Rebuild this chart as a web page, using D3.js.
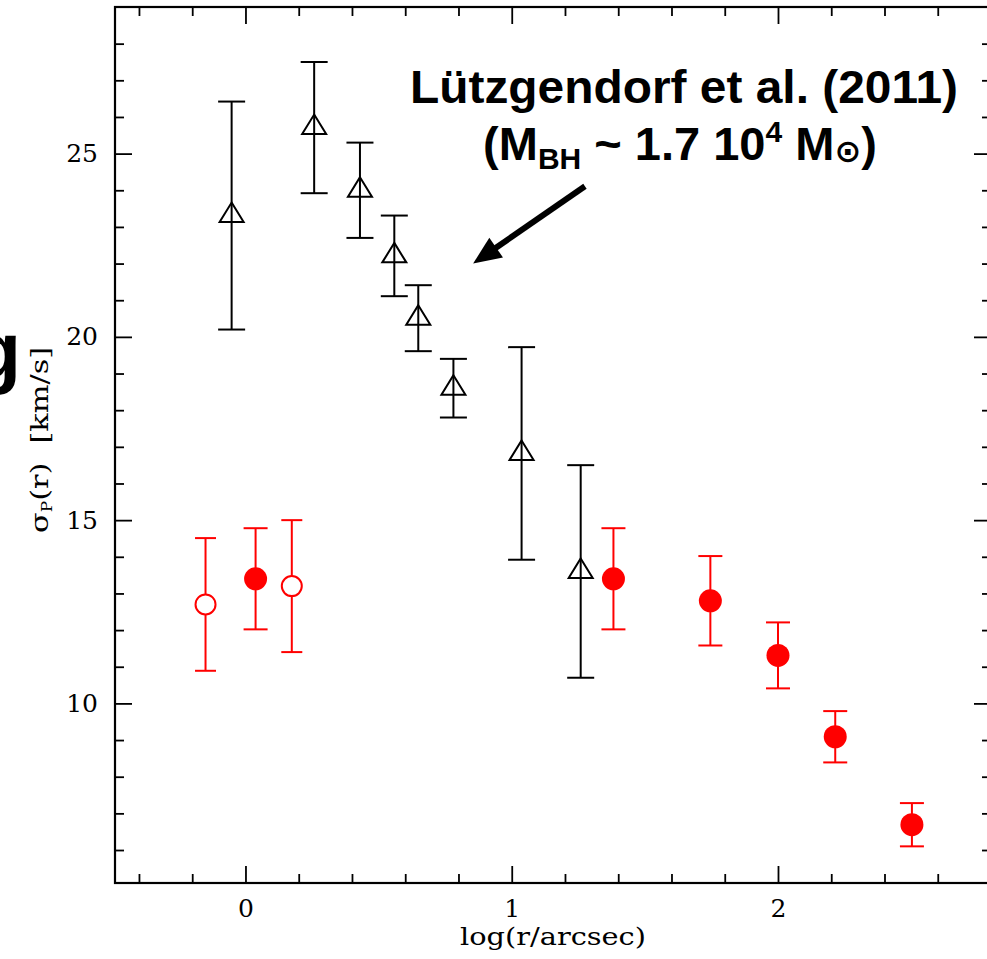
<!DOCTYPE html>
<html>
<head>
<meta charset="utf-8">
<script src="https://cdn.jsdelivr.net/npm/d3@7"></script>
<style>
html,body{margin:0;padding:0;background:#fff;overflow:hidden;}
svg{display:block;}
</style>
</head>
<body>
<svg id="chart" width="987" height="959"></svg>
<script>
// ---- data ----
const lutzX    = [-0.052, 0.258, 0.430, 0.559, 0.649, 0.781, 1.037, 1.259];
const lutzSig  = [23.31, 25.71, 24.00, 22.21, 20.51, 18.60, 16.82, 13.60];
const lutzErr  = [3.11, 1.79, 1.30, 1.10, 0.90, 0.80, 2.90, 2.90];

const openX    = [-0.150, 0.174];
const openSig  = [12.70, 13.20];
const openErr  = [1.81, 1.80];

const fullX    = [0.038, 1.382, 1.746, 2.000, 2.215, 2.503];
const fullSig  = [13.40, 13.40, 12.80, 11.31, 9.09, 6.69];
const fullErr  = [1.38, 1.38, 1.22, 0.90, 0.70, 0.59];

const xMajor = [0, 1, 2];
const xMinor = [-0.4, -0.2, 0.2, 0.4, 0.6, 0.8, 1.2, 1.4, 1.6, 1.8, 2.2, 2.4, 2.6];
const yMajor = [10, 15, 20, 25];
const yMinor = [6, 7, 8, 9, 11, 12, 13, 14, 16, 17, 18, 19, 21, 22, 23, 24, 26, 27, 28];

const arrowFrom = [1.275, 24.11];
const arrowTo   = [0.855, 22.0];

// ---- layout ----
const L = 115, T = 7, B = 883, R = 991;
const svg = d3.select("#chart");
const x = d3.scaleLinear().domain([-0.49, 2.8]).range([L, R]);
const y = d3.scaleLinear().domain([5.1, 29.0]).range([B, T]);

const serif = "'DejaVu Serif', 'Liberation Serif', serif";
const sans = "'Liberation Sans', Arial, 'DejaVu Sans', sans-serif";

function styleAxis(g){
  g.attr("font-size",25).attr("font-family",serif);
  g.select(".domain").remove();
  g.selectAll(".tick line").attr("stroke","#000").attr("stroke-width",1.8);
  g.selectAll(".tick text").attr("font-family",serif).attr("font-size",25).attr("fill","#000");
}
// bottom
svg.append("g").attr("transform",`translate(0,${B})`)
  .call(d3.axisBottom(x).tickValues(xMajor).tickSize(-17).tickPadding(16).tickFormat(d3.format("d")))
  .call(styleAxis);
svg.append("g").attr("transform",`translate(0,${B})`)
  .call(d3.axisBottom(x).tickValues(xMinor).tickSize(-9).tickFormat(""))
  .call(styleAxis);
// top
svg.append("g").attr("transform",`translate(0,${T})`)
  .call(d3.axisTop(x).tickValues(xMajor).tickSize(-17).tickFormat(""))
  .call(styleAxis);
svg.append("g").attr("transform",`translate(0,${T})`)
  .call(d3.axisTop(x).tickValues(xMinor).tickSize(-9).tickFormat(""))
  .call(styleAxis);
// left
svg.append("g").attr("transform",`translate(${L},0)`)
  .call(d3.axisLeft(y).tickValues(yMajor).tickSize(-17).tickPadding(17).tickFormat(d3.format("d")))
  .call(styleAxis);
svg.append("g").attr("transform",`translate(${L},0)`)
  .call(d3.axisLeft(y).tickValues(yMinor).tickSize(-9).tickFormat(""))
  .call(styleAxis);
// right
svg.append("g").attr("transform",`translate(${R},0)`)
  .call(d3.axisRight(y).tickValues(yMajor).tickSize(-17).tickFormat(""))
  .call(styleAxis);
svg.append("g").attr("transform",`translate(${R},0)`)
  .call(d3.axisRight(y).tickValues(yMinor).tickSize(-9).tickFormat(""))
  .call(styleAxis);

// frame
svg.append("rect").attr("x",L).attr("y",T).attr("width",R-L).attr("height",B-T)
  .attr("fill","none").attr("stroke","#000").attr("stroke-width",2.2);

// axis titles
svg.append("text").attr("x",(L+R)/2).attr("y",945).attr("text-anchor","middle")
  .attr("font-family",serif).attr("font-size",24).attr("textLength",186).attr("lengthAdjust","spacingAndGlyphs")
  .text("log(r/arcsec)");

const yt = svg.append("text").attr("transform",`translate(48,${(T+B)/2-5}) rotate(-90)`)
  .attr("text-anchor","middle").attr("font-family",serif).attr("font-size",25)
  .attr("textLength",186).attr("lengthAdjust","spacingAndGlyphs");
yt.append("tspan").text("σ");
yt.append("tspan").attr("font-size",14).attr("dy",4).text("P");
yt.append("tspan").attr("dy",-4).text("(r)\u00a0\u00a0[km/s]");

// stray large "g" at left edge
svg.append("text").attr("x",21).attr("y",378).attr("text-anchor","end")
  .attr("font-family",sans).attr("font-weight","bold").attr("font-size",80).text("g");

// ---- error bars helper ----
function errBars(xs, ys, es, color, cap){
  const data = xs.map((d,i)=>({x:d,y:ys[i],e:es[i]}));
  const g = svg.append("g").attr("stroke",color).attr("stroke-width",2).attr("fill","none");
  g.selectAll(".v").data(data).join("line")
    .attr("x1",d=>x(d.x)).attr("x2",d=>x(d.x)).attr("y1",d=>y(d.y-d.e)).attr("y2",d=>y(d.y+d.e));
  g.selectAll(".t").data(data).join("line")
    .attr("x1",d=>x(d.x)-cap).attr("x2",d=>x(d.x)+cap).attr("y1",d=>y(d.y+d.e)).attr("y2",d=>y(d.y+d.e));
  g.selectAll(".b").data(data).join("line")
    .attr("x1",d=>x(d.x)-cap).attr("x2",d=>x(d.x)+cap).attr("y1",d=>y(d.y-d.e)).attr("y2",d=>y(d.y-d.e));
  return data;
}

// Lutzgendorf triangles
const lut = errBars(lutzX, lutzSig, lutzErr, "#000", 13.5);
svg.append("g").selectAll("path").data(lut).join("path")
  .attr("transform",d=>`translate(${x(d.x)},${y(d.y)})`)
  .attr("d","M0,-13L12,6.5L-12,6.5Z")
  .attr("fill","none").attr("stroke","#000").attr("stroke-width",2).attr("stroke-linejoin","miter");

// red open circles
const op = errBars(openX, openSig, openErr, "#ff0000", 10.5);
svg.append("g").selectAll("circle").data(op).join("circle")
  .attr("cx",d=>x(d.x)).attr("cy",d=>y(d.y)).attr("r",10)
  .attr("fill","#fff").attr("stroke","#ff0000").attr("stroke-width",2);

// red filled circles
const fu = errBars(fullX, fullSig, fullErr, "#ff0000", 12);
svg.append("g").selectAll("circle").data(fu).join("circle")
  .attr("cx",d=>x(d.x)).attr("cy",d=>y(d.y)).attr("r",11.5)
  .attr("fill","#ff0000");

// ---- annotation ----
const ax1 = x(arrowFrom[0]), ay1 = y(arrowFrom[1]), ax2 = x(arrowTo[0]), ay2 = y(arrowTo[1]);
const dx = ax2-ax1, dy = ay2-ay1, len = Math.hypot(dx,dy), ux = dx/len, uy = dy/len;
const headL = 28, headW = 12;
const bx = ax2-ux*headL, by = ay2-uy*headL;
svg.append("line").attr("x1",ax1).attr("y1",ay1).attr("x2",bx+ux*2).attr("y2",by+uy*2)
  .attr("stroke","#000").attr("stroke-width",6);
svg.append("path")
  .attr("d",`M${ax2},${ay2}L${bx-uy*headW},${by+ux*headW}L${bx+uy*headW},${by-ux*headW}Z`)
  .attr("fill","#000");

svg.append("text").attr("x",684).attr("y",103).attr("text-anchor","middle")
  .attr("font-family",sans).attr("font-weight","bold").attr("font-size",47)
  .attr("textLength",548).attr("lengthAdjust","spacingAndGlyphs")
  .text("Lützgendorf et al. (2011)");

const t2 = svg.append("text").attr("x",680).attr("y",160).attr("text-anchor","middle")
  .attr("font-family",sans).attr("font-weight","bold").attr("font-size",47);
t2.append("tspan").text("(M");
t2.append("tspan").attr("font-size",30).attr("dy",9).text("BH");
t2.append("tspan").attr("dy",-9).text(" ~ 1.7 10");
t2.append("tspan").attr("font-size",30).attr("dy",-18).text("4");
t2.append("tspan").attr("dy",18).text(" M");
t2.append("tspan").attr("font-size",32).attr("dy",2).attr("font-family","'DejaVu Sans', sans-serif").text("⊙");
t2.append("tspan").attr("dy",-2).text(")");
</script>
</body>
</html>
